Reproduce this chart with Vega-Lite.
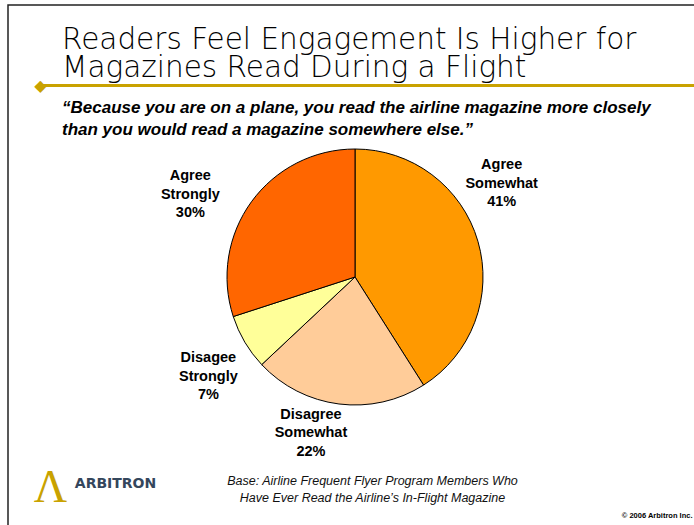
{
  "$schema": "https://vega.github.io/schema/vega-lite/v6.json",
  "width": 694,
  "height": 544,
  "autosize": {"type": "none"},
  "padding": {"left": 8, "top": 5, "right": -8, "bottom": -24},
  "background": "white",
  "config": {
    "view": {"stroke": "#222222", "strokeWidth": 1.5},
    "font": "Liberation Sans"
  },
  "title": {
    "text": ["Readers Feel Engagement Is Higher for", "Magazines Read During a Flight"],
    "subtitle": ["“Because you are on a plane, you read the airline magazine more closely", " than you would read a magazine somewhere else.”"],
    "anchor": "start",
    "frame": "group",
    "orient": "top",
    "dx": 54,
    "offset": -134,
    "font": "DejaVu Sans",
    "fontWeight": 200,
    "fontSize": 29.5,
    "lineHeight": 27.5,
    "color": "#000000",
    "subtitleFont": "Liberation Sans",
    "subtitleFontStyle": "italic",
    "subtitleFontWeight": "bold",
    "subtitleFontSize": 17,
    "subtitleLineHeight": 22,
    "subtitleColor": "#000000",
    "subtitlePadding": 16.9
  },
  "data": {
    "values": [
      {"response": "Agree Somewhat", "pct": 41, "rank": 1},
      {"response": "Disagree Somewhat", "pct": 22, "rank": 2},
      {"response": "Disagee Strongly", "pct": 7, "rank": 3},
      {"response": "Agree Strongly", "pct": 30, "rank": 4}
    ]
  },
  "transform": [
    {"calculate": "datum.response + ' ' + datum.pct + '%'", "as": "label"}
  ],
  "layer": [
    {
      "mark": {"type": "arc", "outerRadius": 128, "stroke": "#000000", "strokeWidth": 1},
      "encoding": {
        "theta": {"field": "pct", "type": "quantitative", "stack": true},
        "order": {"field": "rank", "type": "quantitative"},
        "color": {
          "field": "response",
          "type": "nominal",
          "scale": {
            "domain": ["Agree Somewhat", "Disagree Somewhat", "Disagee Strongly", "Agree Strongly"],
            "range": ["#FF9900", "#FFCC99", "#FFFF99", "#FF6600"]
          },
          "legend": null
        },
        "x": {
          "datum": 0,
          "type": "quantitative",
          "scale": {"domain": [-1, 1], "nice": false, "zero": false},
          "axis": {
            "orient": "top",
            "offset": -80,
            "title": null,
            "grid": false,
            "ticks": false,
            "tickSize": 0,
            "domain": true,
            "domainColor": "#C9A200",
            "domainWidth": 3,
            "domainDash": [0, 30, 3000],
            "values": [-0.9078],
            "labelExpr": "'◆'",
            "labelFont": "DejaVu Sans",
            "labelFontSize": 16,
            "labelColor": "#C9A200",
            "labelBaseline": "middle",
            "labelPadding": 0,
            "labelFlush": false,
            "labelBound": false,
            "labelOverlap": false
          }
        }
      }
    },
    {
      "mark": {"type": "text", "radius": 160, "dx": -7, "dy": -67, "lineBreak": " ", "fontWeight": "bold", "fontSize": 14.5, "lineHeight": 18.5, "align": "center", "baseline": "middle", "color": "#000000"},
      "encoding": {
        "theta": {"field": "pct", "type": "quantitative", "stack": true},
        "order": {"field": "rank", "type": "quantitative"},
        "text": {"condition": {"test": "datum.response === 'Agree Somewhat'", "field": "label", "type": "nominal"}, "value": ""},
        "x": {
          "datum": 0,
          "type": "quantitative",
          "scale": {"domain": [-1, 1], "nice": false, "zero": false},
          "axis": {
            "orient": "bottom",
            "offset": -99,
            "grid": false,
            "ticks": false,
            "tickSize": 0,
            "domain": false,
            "values": [-0.879, -0.6916, 0.9712],
            "labelExpr": "datum.value < -0.8 ? 'Λ' : datum.value < 0 ? 'ARBITRON' : '© 2006 Arbitron Inc.'",
            "labelFont": {"condition": [{"test": "datum.value < -0.8", "value": "Liberation Serif"}, {"test": "datum.value < 0", "value": "DejaVu Sans"}], "value": "Liberation Sans"},
            "labelFontSize": {"condition": [{"test": "datum.value < -0.8", "value": 46}, {"test": "datum.value < 0", "value": 14}], "value": 7.5},
            "labelFontWeight": {"condition": {"test": "datum.value < -0.8", "value": "normal"}, "value": "bold"},
            "labelColor": {"condition": [{"test": "datum.value < -0.8", "value": "#C9A200"}, {"test": "datum.value < 0", "value": "#34465C"}], "value": "#000000"},
            "labelAlign": {"condition": {"test": "datum.value > 0", "value": "right"}, "value": "center"},
            "labelPadding": {"condition": [{"test": "datum.value < -0.8", "value": 37}, {"test": "datum.value < 0", "value": 33}], "value": 65},
            "labelBaseline": "middle",
            "labelFlush": false,
            "labelBound": false,
            "labelOverlap": false,
            "title": ["Base:  Airline Frequent Flyer Program Members Who", "Have Ever Read the Airline’s In-Flight Magazine"],
            "titleFont": "Liberation Sans",
            "titleFontStyle": "italic",
            "titleFontWeight": "normal",
            "titleFontSize": 12.5,
            "titleLineHeight": 17,
            "titleColor": "#111111",
            "titleAlign": "center",
            "titleAnchor": "start",
            "titleBaseline": "top",
            "titleX": 364,
            "titleY": 24
          }
        }
      }
    },
    {
      "mark": {"type": "text", "radius": 160, "dx": -24, "dy": -21, "lineBreak": " ", "fontWeight": "bold", "fontSize": 14.5, "lineHeight": 18.5, "align": "center", "baseline": "middle", "color": "#000000"},
      "encoding": {
        "theta": {"field": "pct", "type": "quantitative", "stack": true},
        "order": {"field": "rank", "type": "quantitative"},
        "text": {"condition": {"test": "datum.response === 'Disagree Somewhat'", "field": "label", "type": "nominal"}, "value": ""}
      }
    },
    {
      "mark": {"type": "text", "radius": 175, "dx": 4, "dy": -8, "lineBreak": " ", "fontWeight": "bold", "fontSize": 14.5, "lineHeight": 18.5, "align": "center", "baseline": "middle", "color": "#000000"},
      "encoding": {
        "theta": {"field": "pct", "type": "quantitative", "stack": true},
        "order": {"field": "rank", "type": "quantitative"},
        "text": {"condition": {"test": "datum.response === 'Disagee Strongly'", "field": "label", "type": "nominal"}, "value": ""}
      }
    },
    {
      "mark": {"type": "text", "radius": 185, "dx": -15, "dy": 8, "lineBreak": " ", "fontWeight": "bold", "fontSize": 14.5, "lineHeight": 18.5, "align": "center", "baseline": "middle", "color": "#000000"},
      "encoding": {
        "theta": {"field": "pct", "type": "quantitative", "stack": true},
        "order": {"field": "rank", "type": "quantitative"},
        "text": {"condition": {"test": "datum.response === 'Agree Strongly'", "field": "label", "type": "nominal"}, "value": ""}
      }
    }
  ],
  "resolve": {"scale": {"x": "independent"}, "axis": {"x": "independent"}}
}
